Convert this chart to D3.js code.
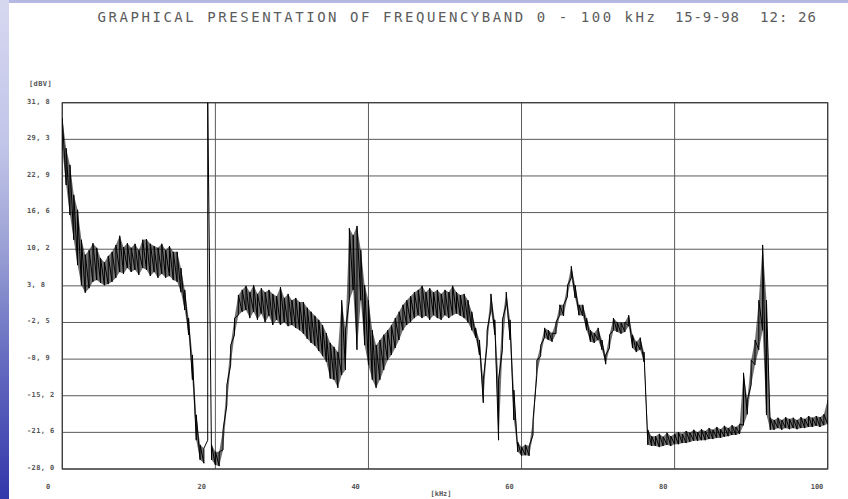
<!DOCTYPE html>
<html><head><meta charset="utf-8">
<script src="https://cdn.jsdelivr.net/npm/d3@7"></script>
<style>html,body{margin:0;padding:0;background:#fff;overflow:hidden}</style>
</head><body>
<svg id="c" width="848" height="499"></svg>
<script>
// ---- data ----
const titleParts = ["GRAPHICAL PRESENTATION OF FREQUENCYBAND 0 - 100 kHz", "15-9-98", "12: 26"];
const yTickLabels = ["-28, 0","-21, 6","-15, 2","-8, 9","-2, 5","3, 8","10, 2","16, 6","22, 9","29, 3","31, 8"];
const xTickValues = [0, 20, 40, 60, 80, 100];
const xTickLabels = ["0", "20", "40", "60", "80", "100"];
const yUnit = "[dBV]";
const xUnit = "[kHz]";
const startKHz = 0, stepKHz = 0.5;
// per-sample peak (max) and minimum readings, dBV, every 0.5 kHz from 0 to 100 kHz
const maxDBV = [
 32.9,27.7,24.8,19.6,17.0,11.8,9.2,10.0,11.2,10.4,
 8.6,7.9,9.0,9.7,10.9,12.5,10.5,11.2,10.4,11.1,
 10.0,11.8,11.9,11.1,10.7,10.4,11.1,10.0,10.7,9.7,
 9.7,6.9,3.1,-1.8,-8.2,-18.6,-23.8,-24.4,36,-23.8,
 -25.0,-25.0,-21.2,-13.4,-6.5,-1.8,2.2,3.1,3.8,2.7,
 3.9,2.4,3.4,2.7,3.1,2.4,2.0,3.6,1.7,2.4,
 1.3,1.7,1.0,1.0,0.0,-0.7,-1.4,-2.1,-3.0,-4.4,
 -6.1,-6.8,-7.7,1.3,-3.9,13.8,12.6,14.2,10.0,3.9,
 1.3,-3.9,-6.5,-5.6,-4.7,-3.9,-3.0,-1.8,-0.7,0.5,
 1.3,2.0,2.7,3.1,3.8,2.7,3.4,2.7,3.1,2.4,
 3.1,2.7,3.8,2.7,2.2,2.4,1.3,-0.7,-3.5,-5.6,
 -12.5,-3.9,2.4,-2.1,-12.5,-2.1,2.7,-2.1,-14.3,-23.3,
 -24.2,-23.8,-24.0,-19.5,-9.1,-6.5,-3.5,-3.9,-4.4,-2.5,
 0.5,0.5,3.9,7.2,3.9,0.5,0.5,-1.8,-3.9,-4.4,
 -3.5,-5.6,-8.2,-4.7,-1.8,-2.5,-2.6,-2.5,-1.3,-4.7,
 -5.9,-5.2,-7.7,-21.2,-22.3,-22.3,-21.9,-22.4,-21.7,-22.3,
 -21.9,-21.6,-21.9,-21.4,-21.7,-21.2,-21.6,-21.1,-21.4,-20.9,
 -21.2,-20.7,-21.1,-20.5,-20.9,-20.4,-20.7,-20.2,-11.3,-16.0,
 -9.1,-5.6,1.3,10.9,1.3,-19.1,-19.5,-19.1,-19.5,-19.0,
 -19.3,-19.1,-19.5,-19.0,-19.3,-18.8,-19.1,-18.8,-19.0,-18.5,
 -16.0
];
const minDBV = [
 27.4,21.3,16.1,11.8,7.4,3.9,2.6,3.4,4.5,4.8,
 4.3,3.9,4.1,4.5,5.2,6.2,5.9,6.9,6.2,6.6,
 5.7,6.9,6.6,5.5,6.2,5.2,5.9,5.2,5.5,4.8,
 4.5,2.7,-0.4,-4.7,-12.5,-23.0,-26.4,-27.0,-23.0,-26.4,
 -27.3,-27.5,-24.7,-16.9,-9.9,-4.7,-1.3,-0.7,-0.4,-1.8,
 -0.7,-2.1,-1.0,-2.5,-1.4,-3.0,-2.1,-3.0,-2.5,-3.2,
 -3.0,-3.5,-3.9,-4.5,-5.4,-6.1,-6.6,-7.5,-8.4,-9.4,
 -12.3,-12.5,-13.9,-11.7,-10.8,1.3,3.1,-7.3,1.3,-6.5,
 -9.9,-12.5,-13.9,-12.5,-10.8,-9.1,-8.2,-7.0,-5.6,-3.9,
 -3.0,-2.5,-1.8,-1.3,-1.8,-1.4,-2.1,-1.3,-1.8,-2.1,
 -1.3,-1.8,-1.3,-1.0,-1.4,-1.8,-2.5,-3.9,-5.2,-8.2,
 -16.5,-6.5,-0.4,-4.7,-23.0,-7.3,0.5,-5.6,-19.5,-25.0,
 -25.7,-25.6,-25.7,-22.1,-11.7,-8.4,-5.2,-5.6,-5.9,-4.5,
 -1.3,-1.4,1.9,5.2,1.7,-1.3,-1.4,-3.9,-5.9,-6.1,
 -5.6,-7.3,-9.8,-7.0,-3.9,-4.2,-4.5,-4.2,-3.2,-7.0,
 -7.7,-7.3,-9.4,-23.8,-24.0,-24.0,-24.2,-24.0,-23.8,-24.0,
 -23.7,-23.7,-23.5,-23.5,-23.3,-23.1,-23.1,-23.0,-23.0,-22.8,
 -22.8,-22.6,-22.6,-22.4,-22.3,-22.1,-22.1,-21.9,-20.4,-18.5,
 -13.4,-9.9,-7.3,-3.9,-18.6,-21.2,-21.2,-20.9,-21.2,-20.9,
 -21.1,-20.9,-21.1,-20.9,-20.9,-20.7,-20.7,-20.5,-20.7,-20.4,
 -20.2
];

// ---- layout ----
const W = 848, H = 499;
const P = {left: 62.3, right: 827.7, top: 102.7, bottom: 469};
const svg = d3.select("#c");
const x = d3.scaleLinear().domain([0, 100]).range([P.left, P.right]);
const y = d3.scaleLinear().domain([-28, 35.6]).range([P.bottom, P.top]);
const xLab = d3.scaleLinear().domain([0, 100]).range([48, 817]);
const yTicks = d3.range(yTickLabels.length).map(i => y.domain()[0] + i * (y.domain()[1] - y.domain()[0]) / (yTickLabels.length - 1));

// background (slide edge)
const defs = svg.append("defs");
const g1 = defs.append("linearGradient").attr("id", "edge").attr("x1", 0).attr("y1", 0).attr("x2", 0).attr("y2", 1);
[[0, "#d6d8f0"], [0.3, "#c0c4e8"], [0.5, "#9aa0d4"], [0.7, "#6970c2"], [1, "#3237aa"]]
  .forEach(([o, c]) => g1.append("stop").attr("offset", o).attr("stop-color", c));
defs.append("clipPath").attr("id", "plotclip").append("rect")
  .attr("x", P.left).attr("y", P.top).attr("width", P.right - P.left).attr("height", P.bottom - P.top);
svg.append("rect").attr("width", W).attr("height", H).attr("fill", "#fff");
svg.append("rect").attr("x", 0).attr("y", 0).attr("width", W).attr("height", 3).attr("fill", "#b4b8e2");
svg.append("rect").attr("x", 0).attr("y", 0).attr("width", 9).attr("height", H).attr("fill", "url(#edge)");

// title
const tf = "'DejaVu Sans Mono', monospace";
const titlePos = [[97.5, 557.5], [675, 64], [760, 56]];
titleParts.forEach((t, i) => {
  svg.append("text").attr("x", titlePos[i][0]).attr("y", 22.3)
    .attr("textLength", titlePos[i][1]).attr("lengthAdjust", "spacing")
    .attr("font-family", tf).attr("font-size", 14).attr("fill", "#5c5c5c").text(t);
});

// grid
const grid = svg.append("g").attr("stroke", "#5a5a5a").attr("stroke-width", 1).attr("fill", "none");
yTicks.forEach(v => grid.append("line").attr("x1", P.left).attr("x2", P.right).attr("y1", y(v)).attr("y2", y(v)));
xTickValues.forEach(v => grid.append("line").attr("x1", x(v)).attr("x2", x(v)).attr("y1", P.top).attr("y2", P.bottom));
svg.append("rect").attr("x", P.left).attr("y", P.top).attr("width", P.right - P.left).attr("height", P.bottom - P.top)
  .attr("fill", "none").attr("stroke", "#3a3a3a").attr("stroke-width", 1.2);

// axis labels
const lab = svg.append("g").attr("font-family", tf).attr("font-size", 7).attr("font-weight", "bold").attr("fill", "#555");
yTicks.forEach((v, i) => lab.append("text").attr("x", 27).attr("y", y(v) - 1).attr("dominant-baseline", "middle")
  .attr("letter-spacing", 0.4).text(yTickLabels[i]));
xTickValues.forEach((v, i) => lab.append("text").attr("x", xLab(v)).attr("y", 487).attr("dominant-baseline", "middle")
  .attr("text-anchor", "middle").text(xTickLabels[i]));
lab.append("text").attr("x", 29).attr("y", 84).attr("dominant-baseline", "middle").attr("letter-spacing", 0.4).text(yUnit);
lab.append("text").attr("x", 441).attr("y", 494).attr("dominant-baseline", "middle").attr("text-anchor", "middle").text(xUnit);

// trace: min/max detector display
const samples = maxDBV.map((hi, i) => ({f: startKHz + i * stepKHz, hi: hi, lo: minDBV[i]}));
const plotG = svg.append("g").attr("clip-path", "url(#plotclip)");
// dense noise band between min and max readings (isolated full-scale spike drawn by the line only)
plotG.append("path")
  .attr("d", d3.area().defined(d => d.hi - d.lo < 40).x(d => x(d.f)).y0(d => y(d.lo)).y1(d => y(d.hi))(samples))
  .attr("fill", "#111").attr("fill-opacity", 0.6).attr("stroke", "none");
const pts = [];
samples.forEach(d => { pts.push([x(d.f), y(d.lo)]); pts.push([x(d.f), y(d.hi)]); });
plotG.append("path")
  .attr("d", d3.line()(pts))
  .attr("fill", "none").attr("stroke", "#000").attr("stroke-width", 1).attr("stroke-linejoin", "round");
</script>
</body></html>
